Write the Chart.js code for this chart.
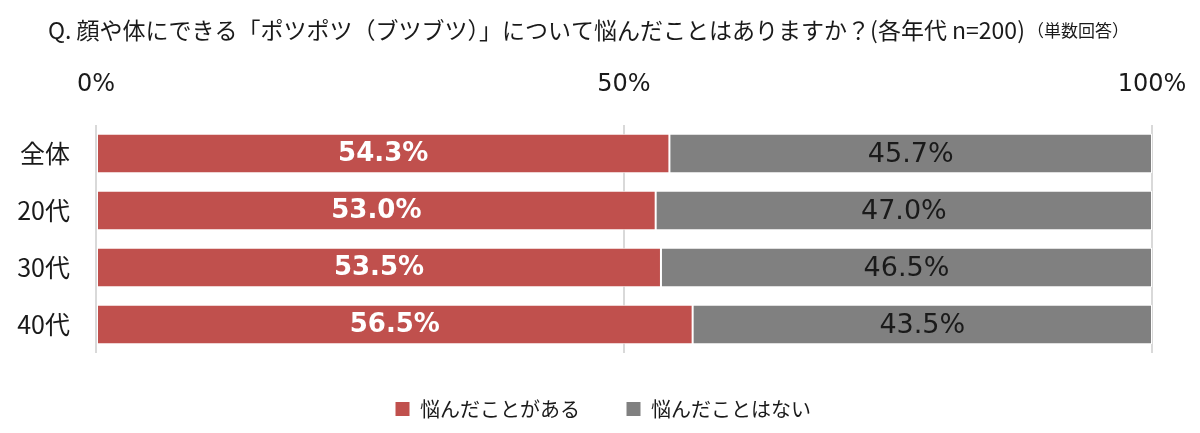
<!DOCTYPE html>
<html>
<head>
<meta charset="utf-8">
<script src="https://cdn.jsdelivr.net/npm/chart.js@4"></script>
<style>
  html, body { margin: 0; padding: 0; background: #fff; }
  #wrap { width: 1200px; height: 433px; }
</style>
</head>
<body>
<div id="wrap"><canvas id="barChart"></canvas></div>
<script>
// データ
const categories = ['全体', '20代', '30代', '40代'];
const yesValues = [54.3, 53.0, 53.5, 56.5];   // 悩んだことがある
const noValues = [45.7, 47.0, 46.5, 43.5];    // 悩んだことはない
const seriesNames = ['悩んだことがある', '悩んだことはない'];
const tickValues = [0, 50, 100];

const titleMain = 'Q. 顔や体にできる「ポツポツ（ブツブツ）」について悩んだことはありますか？(各年代 n=200)';
const titleSub = '（単数回答）';

const JP = '"Noto Sans CJK JP", sans-serif';
const NUM = '"DejaVu Sans", sans-serif';

// タイトル描画
const titlePlugin = {
  id: 'titleText',
  afterDraw(chart) {
    const ctx = chart.ctx;
    ctx.save();
    ctx.fillStyle = '#1a1a1a';
    ctx.textBaseline = 'middle';
    ctx.textAlign = 'left';
    ctx.font = '23px ' + JP;
    ctx.fillText(titleMain, 48, 30);
    const w = ctx.measureText(titleMain).width;
    ctx.font = '17px ' + JP;
    ctx.fillText(titleSub, 48 + w + 2, 31);
    ctx.restore();
  }
};

// 凡例を少し右へ（全体幅の中央に合わせる）
const legendShift = {
  id: 'legendShift',
  afterLayout(chart) {
    const lg = chart.legend;
    if (lg) {
      lg.left += 27;
      lg.right += 27;
    }
  }
};

// 棒の中の数値ラベル
const valueLabels = {
  id: 'valueLabels',
  afterDatasetsDraw(chart) {
    const ctx = chart.ctx;
    ctx.save();
    ctx.textAlign = 'center';
    ctx.textBaseline = 'middle';
    chart.data.datasets.forEach((ds, i) => {
      const meta = chart.getDatasetMeta(i);
      meta.data.forEach((bar, j) => {
        const x = (bar.x + bar.base) / 2;
        if (i === 0) {
          ctx.fillStyle = '#ffffff';
          ctx.font = 'bold 26px ' + NUM;
        } else {
          ctx.fillStyle = '#1a1a1a';
          ctx.font = '27px ' + NUM;
        }
        ctx.fillText(ds.data[j].toFixed(1) + '%', x, bar.y + 1);
      });
    });
    ctx.restore();
  }
};

const ctx = document.getElementById('barChart');

new Chart(ctx, {
  type: 'bar',
  data: {
    labels: categories,
    datasets: [{
      label: seriesNames[0],
      data: yesValues,
      backgroundColor: '#c0504d',
      borderColor: '#ffffff',
      borderWidth: 1,
      borderSkipped: false,
      barPercentage: 0.69,
      categoryPercentage: 1
    }, {
      label: seriesNames[1],
      data: noValues,
      backgroundColor: '#808080',
      borderColor: '#ffffff',
      borderWidth: 1,
      borderSkipped: false,
      barPercentage: 0.69,
      categoryPercentage: 1
    }]
  },
  options: {
    indexAxis: 'y',
    responsive: true,
    maintainAspectRatio: false,
    animation: false,
    layout: {
      padding: { top: 60, right: 48, bottom: 4, left: 0 }
    },
    plugins: {
      legend: {
        position: 'bottom',
        labels: {
          boxWidth: 15,
          boxHeight: 15,
          padding: 46,
          color: '#1a1a1a',
          font: { size: 20, family: JP }
        }
      },
      tooltip: { enabled: false }
    },
    scales: {
      x: {
        position: 'top',
        stacked: true,
        min: 0,
        max: 100,
        afterBuildTicks(scale) {
          scale.ticks = tickValues.map(v => ({ value: v }));
        },
        afterFit(scale) {
          scale.height = 65;
          scale.paddingLeft = 0;
          scale.paddingRight = 0;
        },
        grid: {
          color: '#d9d9d9',
          lineWidth: 2,
          drawTicks: false
        },
        border: { display: false },
        ticks: {
          padding: 26,
          color: '#1a1a1a',
          font: { size: 24, family: NUM },
          callback: v => v + '%'
        }
      },
      y: {
        stacked: true,
        afterFit(scale) {
          scale.width = 96;
        },
        grid: { display: false },
        border: { display: false },
        ticks: {
          padding: 18,
          color: '#1a1a1a',
          font: { size: 25, family: JP }
        }
      }
    }
  },
  plugins: [titlePlugin, legendShift, valueLabels]
});
</script>
</body>
</html>
